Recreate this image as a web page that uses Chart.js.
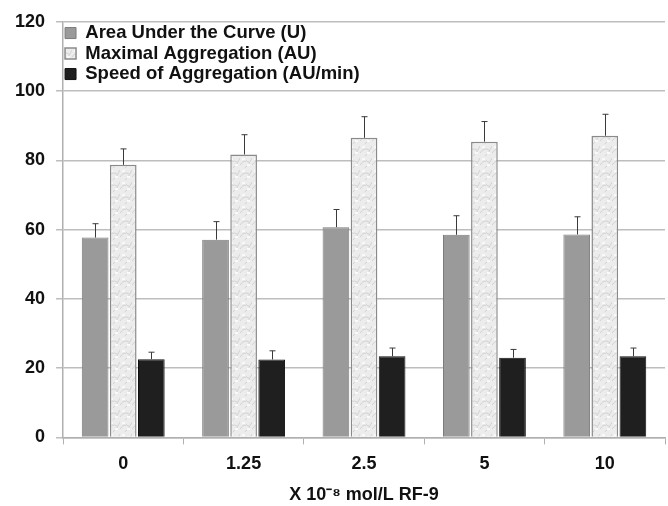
<!DOCTYPE html>
<html>
<head>
<meta charset="utf-8">
<script src="https://cdn.jsdelivr.net/npm/chart.js@4"></script>
<style>
  html, body { margin: 0; padding: 0; background: #fff; }
  #wrap { width: 668px; height: 506px; }
</style>
</head>
<body>
<div id="wrap"><canvas id="rfChart"></canvas></div>
<script>
// donnees
const categories = ["0", "1.25", "2.5", "5", "10"];
const seriesNames = ["Area Under the Curve (U)", "Maximal Aggregation (AU)", "Speed of Aggregation (AU/min)"];
const aucValues = [57.7, 57.1, 60.7, 58.5, 58.6];
const aucErrors = [4.0, 5.2, 5.1, 5.5, 5.1];
const maxAggValues = [78.7, 81.7, 86.5, 85.4, 87.1];
const maxAggErrors = [4.6, 5.7, 6.1, 5.8, 6.2];
const speedValues = [22.6, 22.5, 23.4, 23.0, 23.4];
const speedErrors = [2.0, 2.5, 2.4, 2.4, 2.4];
const yTicks = [0, 20, 40, 60, 80, 100, 120];

// petite texture pour les barres "Maximal Aggregation"
function texture() {
  const c = document.createElement("canvas");
  c.width = 12; c.height = 12;
  const g = c.getContext("2d");
  g.fillStyle = "#ececec";
  g.fillRect(0, 0, 12, 12);
  g.strokeStyle = "#d2d2d2";
  g.lineWidth = 1;
  g.beginPath();
  g.moveTo(0, 9); g.quadraticCurveTo(4, 3, 9, 6);
  g.moveTo(5, 12); g.quadraticCurveTo(9, 9, 12, 2);
  g.stroke();
  g.fillStyle = "#f9f9f9";
  g.fillRect(2, 2, 3, 2);
  g.fillRect(7, 8, 3, 2);
  return g.createPattern(c, "repeat");
}

// barres d'erreur (seulement vers le haut)
const errorBars = {
  id: "errorBars",
  afterDatasetsDraw(chart) {
    const ctx = chart.ctx;
    const y = chart.scales.y;
    ctx.save();
    ctx.strokeStyle = "#3a3a3a";
    ctx.lineWidth = 1;
    chart.data.datasets.forEach((ds, i) => {
      const meta = chart.getDatasetMeta(i);
      meta.data.forEach((bar, j) => {
        const top = y.getPixelForValue(ds.data[j] + ds.errors[j]);
        const x = Math.round(bar.x) + 0.5;
        ctx.beginPath();
        ctx.moveTo(x, bar.y);
        ctx.lineTo(x, top);
        ctx.moveTo(x - 3, top);
        ctx.lineTo(x + 3, top);
        ctx.stroke();
      });
    });
    ctx.restore();
  }
};

// la legende "chartArea" part du haut du canvas : on la recale sur la zone du graphe
const legendInside = {
  id: "legendInside",
  afterLayout(chart) {
    const lg = chart.legend;
    if (!lg) return;
    const h = lg.bottom - lg.top;
    lg.top = chart.chartArea.top;
    lg.bottom = lg.top + h;
  }
};

const font = { family: "'Liberation Sans', Arial, sans-serif", weight: "bold" };

new Chart(document.getElementById("rfChart").getContext("2d"), {
  type: "bar",
  data: {
    labels: categories,
    datasets: [
      {
        label: seriesNames[0],
        data: aucValues,
        errors: aucErrors,
        backgroundColor: "#9a9a9a",
        borderColor: "#7c7c7c",
        borderWidth: 1
      },
      {
        label: seriesNames[1],
        data: maxAggValues,
        errors: maxAggErrors,
        backgroundColor: texture(),
        borderColor: "#8a8a8a",
        borderWidth: 1.5
      },
      {
        label: seriesNames[2],
        data: speedValues,
        errors: speedErrors,
        backgroundColor: "#1f1f1f",
        borderColor: "#111111",
        borderWidth: 1
      }
    ]
  },
  options: {
    responsive: true,
    maintainAspectRatio: false,
    animation: false,
    layout: { padding: { top: 9, right: 3, left: 4, bottom: 0 } },
    datasets: { bar: { categoryPercentage: 0.7, barPercentage: 0.95 } },
    scales: {
      x: {
        grid: { drawOnChartArea: false, tickLength: 7, color: "#b0b0b0", lineWidth: 1 },
        border: { color: "#b0b0b0", width: 1.5 },
        ticks: { color: "#111", padding: 9, font: { ...font, size: 18 } },
        title: {
          display: true,
          text: "X 10⁻⁸ mol/L RF-9",
          color: "#111",
          padding: { top: 2, bottom: 2 },
          font: { ...font, size: 18, lineHeight: 1.0 }
        }
      },
      y: {
        min: 0,
        max: 120,
        afterBuildTicks: axis => { axis.ticks = yTicks.map(v => ({ value: v })); },
        grid: { color: "#bdbdbd", lineWidth: 1.5, tickLength: 7 },
        border: { color: "#b0b0b0", width: 1.5 },
        ticks: { color: "#111", padding: 11, font: { ...font, size: 18 } }
      }
    },
    plugins: {
      legend: {
        position: "chartArea",
        align: "start",
        labels: {
          boxWidth: 11,
          boxHeight: 11,
          padding: 2,
          color: "#111",
          font: { ...font, size: 18.5, lineHeight: 1.1 }
        }
      },
      tooltip: { enabled: false }
    }
  },
  plugins: [errorBars, legendInside]
});
</script>
</body>
</html>
